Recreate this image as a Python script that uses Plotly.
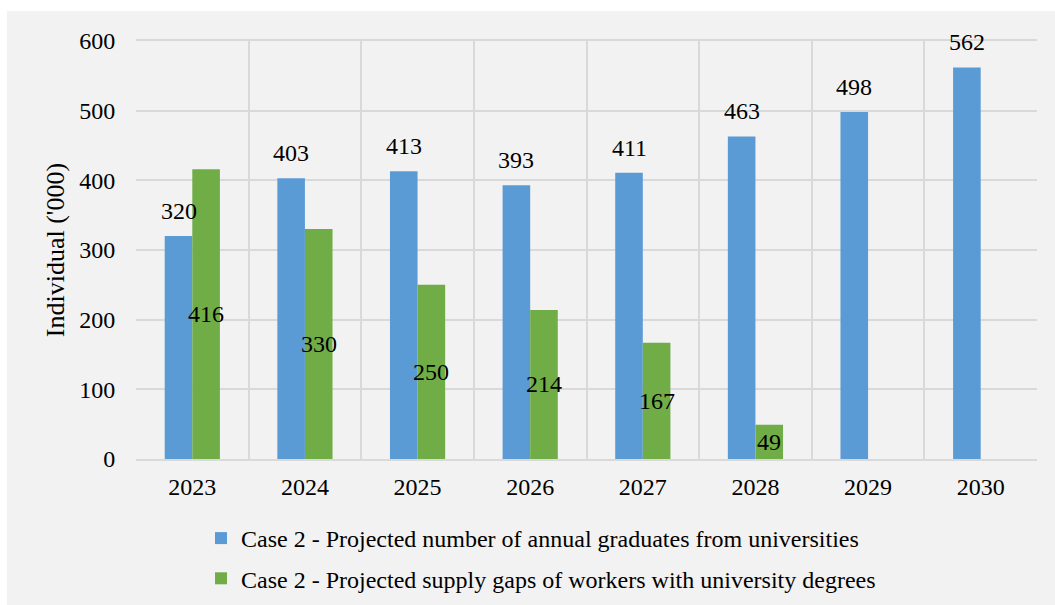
import plotly.graph_objects as go

years = ["2023", "2024", "2025", "2026", "2027", "2028", "2029", "2030"]
graduates = [320, 403, 413, 393, 411, 463, 498, 562]
gap_years = ["2023", "2024", "2025", "2026", "2027", "2028"]
gaps = [416, 330, 250, 214, 167, 49]
name_grad = "Case 2 - Projected number of annual graduates from universities"
name_gap = "Case 2 - Projected supply gaps of workers with university degrees"

BLUE = "#5b9bd5"
GREEN = "#70ad47"
FONT = "Liberation Serif"

W, H = 1055, 605
ml, mr, mt, mb = 136, 18, 41, 146
bargap = 0.51
cat_px = (W - ml - mr) / len(years)
half_px = cat_px * (1 - bargap) / 4  # half of a single bar width
pw, ph = W - ml - mr, H - mt - mb

fig = go.Figure()
fig.add_trace(go.Bar(x=years, y=graduates, name=name_grad, marker_color=BLUE,
                     marker_line_width=0, legendgroup="a"))
fig.add_trace(go.Bar(x=gap_years, y=gaps, name=name_gap, marker_color=GREEN,
                     marker_line_width=0, legendgroup="b"))

annots = []
for yr, v in zip(years, graduates):
    annots.append(dict(x=years.index(yr), y=v, xref="x", yref="y", text=str(v),
                       showarrow=False, xshift=-half_px, yshift=10, yanchor="bottom",
                       font=dict(family=FONT, size=24, color="black")))
for yr, v in zip(gap_years, gaps):
    annots.append(dict(x=years.index(yr), y=v / 2, xref="x", yref="y", text=str(v),
                       showarrow=False, xshift=half_px, yshift=0, yanchor="middle",
                       font=dict(family=FONT, size=24, color="black")))

fig.update_layout(
    width=W, height=H,
    margin=dict(l=ml, r=mr, t=mt, b=mb, autoexpand=False),
    paper_bgcolor="white",
    plot_bgcolor="#f2f2f2",
    barmode="group",
    bargap=bargap,
    bargroupgap=0,
    font=dict(family=FONT, size=24, color="black"),
    annotations=annots,
    shapes=[dict(type="rect", xref="paper", yref="paper", layer="below",
                 x0=(7 - ml) / pw, x1=(W - ml + 5) / pw,
                 y0=-(mb + 5) / ph, y1=1 + (mt - 11) / ph,
                 fillcolor="#f2f2f2", line_width=0)],
    legend=dict(orientation="v", x=(201 - ml) / pw, xanchor="left",
                y=-(516 - (H - mb)) / ph, yanchor="top",
                traceorder="grouped", tracegroupgap=6,
                font=dict(family=FONT, size=24, color="black"),
                bgcolor="rgba(0,0,0,0)"),
    xaxis=dict(type="category", tickson="boundaries", showgrid=True,
               gridcolor="#d9d9d9", gridwidth=2, showline=True, linecolor="#d9d9d9",
               linewidth=2, mirror=True, ticks="outside", ticklen=12,
               tickcolor="rgba(0,0,0,0)", ticklabelstandoff=5,
               tickfont=dict(family=FONT, size=24),
               range=[-0.5, 7.5]),
    yaxis=dict(range=[0, 600], dtick=100, showgrid=True, gridcolor="#d9d9d9",
               gridwidth=2, zeroline=False, showline=False, ticks="outside",
               ticklen=15, tickcolor="rgba(0,0,0,0)",
               tickfont=dict(family=FONT, size=24),
               title=dict(text="Individual ('000)", font=dict(family=FONT, size=26),
                          standoff=7)),
)

fig.write_html("out.html")
